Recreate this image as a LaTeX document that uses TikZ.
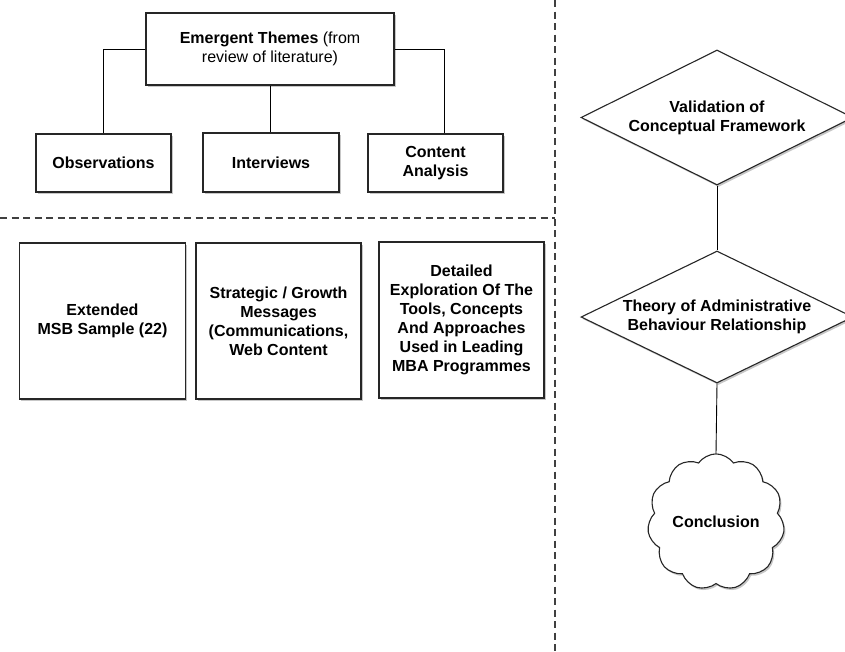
\documentclass[tikz,border=0pt]{standalone}
\usepackage{fontspec}
\setmainfont{Liberation Sans}
\usetikzlibrary{shapes.geometric,shapes.symbols,shadows}
\tikzset{
  shadowed/.style={drop shadow={shadow xshift=1.5pt, shadow yshift=-2pt, opacity=0.22, fill=black}},
  box/.style={rectangle, draw=black!85, line width=1.1pt, fill=white, inner sep=0pt, align=center,
    font=\fontsize{16}{19}\selectfont\bfseries, shadowed},
  headbox/.style={box, font=\fontsize{16}{19}\selectfont},
  dia/.style={diamond, draw=black!85, line width=1.1pt, fill=white, inner sep=0pt, aspect=2, align=center,
    font=\fontsize{16}{19}\selectfont\bfseries, shadowed},
  cloudnode/.style={cloud, cloud puffs=11, cloud puff arc=110, aspect=1, draw=black!85, line width=1.1pt,
    fill=white, inner sep=0pt, font=\fontsize{16}{19}\selectfont\bfseries, shadowed},
  link/.style={draw=black, line width=0.9pt},
  divider/.style={draw=black!75, line width=1.3pt, dash pattern=on 7pt off 4.5pt}
}
\begin{document}
\begin{tikzpicture}[x=1pt,y=-1pt]
\useasboundingbox (0,0) rectangle (845,651);
% dividers
\coordinate (hl) at (0,218);
\coordinate (hr) at (555,218);
\coordinate (vt) at (555,0);
\coordinate (vb) at (555,651);
\draw[divider] (hl) -- (hr);
\draw[divider] (vt) -- (vb);
% top group
\node[headbox, minimum width=248pt, minimum height=72pt] (em) at (270,49)
  {\textbf{Emergent Themes} (from\\review of literature)};
\node[box, minimum width=135pt, minimum height=58pt] (obs) at (103.5,163) {Observations};
\node[box, minimum width=136pt, minimum height=59pt] (int) at (271,162.5) {Interviews};
\node[box, minimum width=135pt, minimum height=58pt] (ca) at (435.5,163) {Content\\Analysis};
\draw[link] (em.west) -| (obs.north);
\draw[link] (em.south) -- (em.south |- int.north);
\draw[link] (em.east) -| ([xshift=8.5pt]ca.north);
% lower boxes
\node[box, minimum width=166pt, minimum height=156pt] (ext) at (102.5,321) {Extended\\MSB Sample (22)};
\node[box, minimum width=165pt, minimum height=156pt] (str) at (278.5,321) {Strategic / Growth\\Messages\\(Communications,\\Web Content};
\node[box, minimum width=165pt, minimum height=156pt] (det) at (461.5,320) {Detailed\\Exploration Of The\\Tools, Concepts\\And Approaches\\Used in Leading\\MBA Programmes};
% right column
\node[dia, minimum width=272pt, minimum height=135pt] (v) at (717,117.5) {Validation of\\Conceptual Framework};
\node[dia, minimum width=272pt, minimum height=132pt] (t) at (717,317) {Theory of Administrative\\Behaviour Relationship};
\node[cloudnode, minimum width=137pt, minimum height=135pt] (c) at (716,522) {Conclusion};
\draw[link] (v.south) -- (t.north);
\draw[link] (t.south) -- (c.north);
\end{tikzpicture}
\end{document}
